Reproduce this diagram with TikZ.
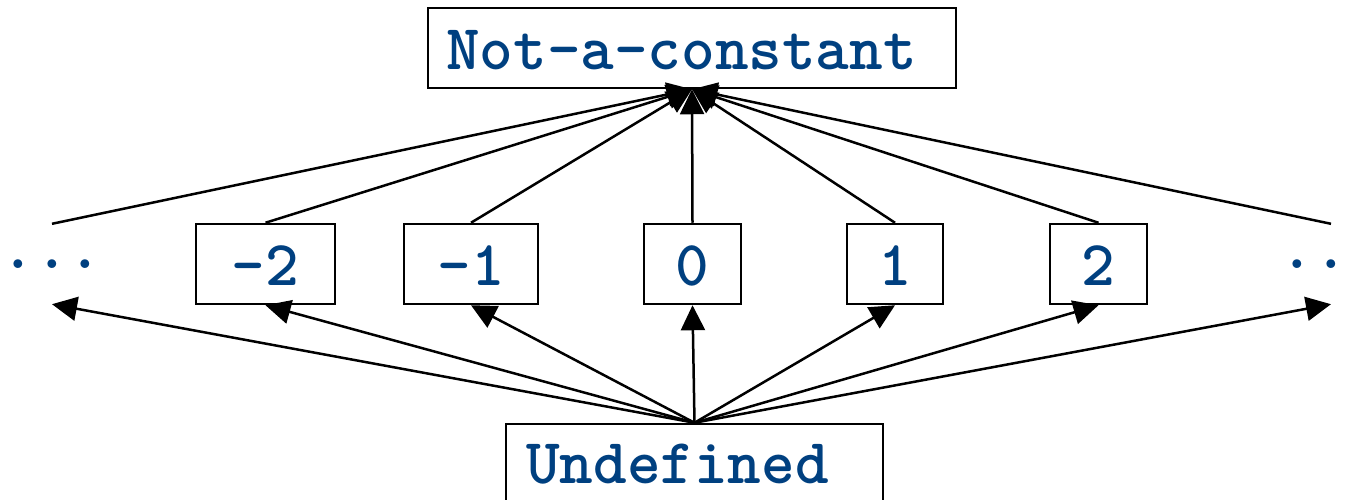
\documentclass[tikz,border=0pt]{standalone}
\usepackage{fontspec}
\usetikzlibrary{arrows.meta}
\definecolor{txtblue}{RGB}{0,64,128}
\tikzset{
  lbl/.style={font=\ttfamily\bfseries\fontsize{64}{68}\selectfont, text=txtblue},
  numbox/.style={lbl, draw, line width=2.5pt, inner xsep=0pt, inner ysep=0pt, minimum height=80pt, text height=42pt, text depth=0pt},
  dotsnode/.style={lbl, inner xsep=0pt, inner ysep=0pt, minimum height=80pt},
  bigbox/.style={draw, line width=2.5pt, inner sep=0pt},
  arr/.style={line width=2.5pt, -{Triangle[length=25pt,width=24pt]}}
}
\begin{document}
\begin{tikzpicture}[x=1pt,y=-1pt]
\useasboundingbox (0,0) rectangle (1355,500);
\clip (0,0) rectangle (1355,500);
% top box
\node[bigbox, minimum width=528pt, minimum height=80pt] (top) at (692,48) {};
\node[lbl, anchor=base west, inner sep=0pt] (toptext) at (446,70) {Not-a-constant};
% bottom box
\node[bigbox, minimum width=377pt, minimum height=80pt] (undef) at (694.5,464) {};
\node[lbl, anchor=base west, inner sep=0pt] (undeftext) at (526,483) {Undefined};
% middle row
\node[dotsnode] (dl) at (52,264) {...};
\node[numbox, minimum width=139pt] (m2) at (265.5,264) {-2};
\node[numbox, minimum width=134pt] (m1) at (471,264) {-1};
\node[numbox, minimum width=97pt] (z) at (692.5,264) {0};
\node[numbox, minimum width=96pt] (p1) at (895,264) {1};
\node[numbox, minimum width=97pt] (p2) at (1098.5,264) {2};
\node[dotsnode] (dr) at (1331,264) {...};
% upward connectors
\foreach \n in {dl,m2,m1,z,p1,p2,dr}
  \draw[arr] (\n.north) -- (top.south);
\foreach \n in {dl,m2,m1,z,p1,p2,dr}
  \draw[arr] (undef.north) -- (\n.south);
\end{tikzpicture}
\end{document}
